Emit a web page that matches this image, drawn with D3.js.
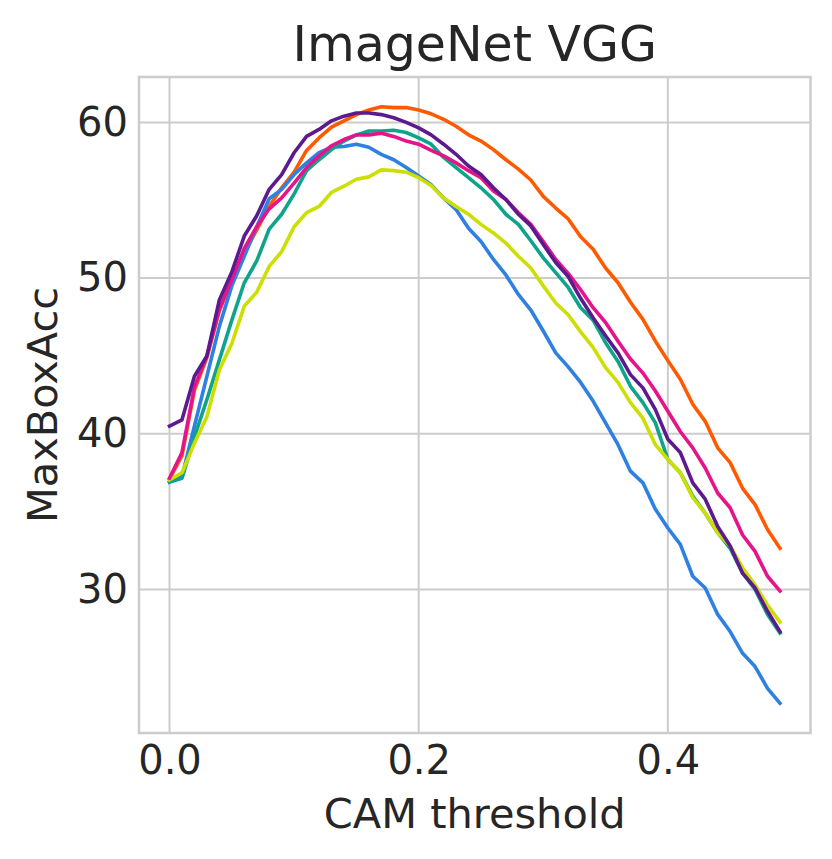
<!DOCTYPE html>
<html><head><meta charset="utf-8">
<script src="https://cdn.jsdelivr.net/npm/d3@7"></script>
<style>
html,body{margin:0;padding:0;background:#fff;}
svg text{font-family:"DejaVu Sans",sans-serif;fill:#262626;}
</style></head>
<body>
<svg id="chart" width="832" height="859"></svg>
<script>
// CAM thresholds 0.00 .. 0.49
const thresholds = d3.range(50).map(i => +(i * 0.01).toFixed(2));
const xTicks = [0.0, 0.2, 0.4];
const yTicks = [30, 40, 50, 60];
const seriesNames = ["orange", "blue", "teal", "yellow", "magenta", "purple"];
const seriesColors = ["#ff5a00", "#2e80e2", "#0fa38b", "#cddf00", "#e6148a", "#5c1a8e"];

const orange = [37.1,38.6,42.8,44.9,47.9,49.9,51.6,53.1,54.6,55.8,56.8,58.2,59.0,59.7,60.1,60.5,60.8,61.0,60.95,60.95,60.8,60.55,60.2,59.75,59.2,58.8,58.25,57.6,57.0,56.3,55.25,54.5,53.8,52.65,51.85,50.65,49.7,48.45,47.35,45.95,44.7,43.5,41.9,40.8,39.1,38.15,36.5,35.45,33.85,32.65];
const blue = [36.9,37.25,40.5,43.7,46.9,49.5,51.4,53.3,55.1,55.7,56.65,57.4,58.05,58.4,58.45,58.6,58.4,57.95,57.6,57.1,56.55,56.0,55.15,54.4,53.2,52.35,51.2,50.2,48.95,47.95,46.6,45.2,44.3,43.3,42.1,40.7,39.3,37.6,36.85,35.15,33.95,32.9,30.85,30.1,28.4,27.3,25.9,25.05,23.65,22.7];
const teal = [36.9,37.15,39.8,42.2,44.75,47.3,49.7,51.1,53.15,54.1,55.4,56.9,57.6,58.25,58.8,59.2,59.45,59.45,59.5,59.35,59.0,58.6,57.75,57.1,56.45,55.8,55.05,54.1,53.45,52.4,51.3,50.35,49.4,48.1,47.3,45.85,44.65,43.05,42.0,40.7,38.35,37.5,36.0,34.9,33.65,32.65,31.05,30.0,28.4,27.2];
const yellow = [37.05,37.5,39.4,41.1,44.1,45.8,48.2,49.1,50.75,51.7,53.3,54.2,54.6,55.5,55.9,56.35,56.5,56.95,56.9,56.8,56.45,55.95,55.15,54.6,54.1,53.45,52.9,52.25,51.4,50.65,49.5,48.4,47.65,46.55,45.55,44.25,43.3,42.0,41.0,39.3,38.35,37.5,35.9,34.9,33.65,32.8,31.4,30.3,29.0,27.9];
const magenta = [37.15,38.8,43.0,45.0,48.0,49.9,51.9,53.3,54.45,55.15,56.1,57.1,57.85,58.5,58.9,59.2,59.2,59.3,59.1,58.8,58.6,58.2,57.85,57.4,56.9,56.45,55.6,55.05,54.2,53.45,52.35,51.2,50.3,49.25,48.1,47.15,45.95,44.8,43.9,42.75,41.45,40.15,39.1,37.8,36.2,35.25,33.5,32.45,30.85,29.9];
const purple = [40.5,40.9,43.7,45.0,48.6,50.4,52.7,54.0,55.7,56.65,58.05,59.1,59.55,60.1,60.4,60.6,60.6,60.5,60.3,60.0,59.65,59.2,58.6,57.95,57.2,56.65,55.8,55.05,54.1,53.35,52.15,51.0,50.1,48.7,47.45,46.3,45.2,43.8,42.95,41.55,39.65,38.8,36.85,35.8,34.05,32.8,31.05,30.1,28.6,27.3];

const seriesValues = [orange, blue, teal, yellow, magenta, purple];

const margin = {left: 139, right: 832 - 810.5, top: 77, bottom: 859 - 733};
const W = 832, H = 859;
const svg = d3.select("#chart");

function padded(ext) { const s = ext[1] - ext[0]; return [ext[0] - 0.05 * s, ext[1] + 0.05 * s]; }
const xExt = padded(d3.extent(thresholds));
const allVals = seriesValues.flat();
const yExt = padded(d3.extent(allVals));

const x = d3.scaleLinear().domain(xExt).range([margin.left, W - margin.right]);
const y = d3.scaleLinear().domain(yExt).range([H - margin.bottom, margin.top]);

// grid
const grid = svg.append("g");
grid.selectAll("line.vx").data(xTicks).join("line")
  .attr("x1", d => x(d)).attr("x2", d => x(d))
  .attr("y1", margin.top).attr("y2", H - margin.bottom)
  .attr("stroke", "#cccccc").attr("stroke-width", 2);
grid.selectAll("line.hy").data(yTicks).join("line")
  .attr("y1", d => y(d)).attr("y2", d => y(d))
  .attr("x1", margin.left).attr("x2", W - margin.right)
  .attr("stroke", "#cccccc").attr("stroke-width", 2);

// lines
const line = d3.line().x((d, i) => x(thresholds[i])).y(d => y(d));
svg.append("g").selectAll("path").data(seriesValues).join("path")
  .attr("d", d => line(d))
  .attr("fill", "none")
  .attr("stroke", (d, i) => seriesColors[i])
  .attr("stroke-width", 3.6)
  .attr("stroke-linejoin", "round")
  .attr("stroke-linecap", "square");

// spines
svg.append("rect")
  .attr("x", margin.left).attr("y", margin.top)
  .attr("width", W - margin.right - margin.left)
  .attr("height", H - margin.bottom - margin.top)
  .attr("fill", "none").attr("stroke", "#cccccc").attr("stroke-width", 2.5);

// axes (ticks with zero length)
const xAxis = d3.axisBottom(x).tickValues(xTicks).tickFormat(d3.format(".1f")).tickSize(0).tickPadding(13);
const gx = svg.append("g").attr("transform", `translate(0,${H - margin.bottom})`).call(xAxis);
gx.select(".domain").remove();
gx.selectAll("text").attr("font-size", "40px").attr("fill", "#262626").attr("font-family", "DejaVu Sans");

const yAxis = d3.axisLeft(y).tickValues(yTicks).tickFormat(d3.format("d")).tickSize(0).tickPadding(11);
const gy = svg.append("g").attr("transform", `translate(${margin.left},0)`).call(yAxis);
gy.select(".domain").remove();
gy.selectAll("text").attr("font-size", "40px").attr("fill", "#262626").attr("font-family", "DejaVu Sans");

// title & labels
const cx = (margin.left + W - margin.right) / 2;
svg.append("text").attr("x", cx).attr("y", 61).attr("text-anchor", "middle")
  .attr("font-size", "49px").text("ImageNet VGG");
svg.append("text").attr("x", cx).attr("y", 828).attr("text-anchor", "middle")
  .attr("font-size", "41.5px").text("CAM threshold");
const cy = (margin.top + H - margin.bottom) / 2;
svg.append("text").attr("transform", `translate(57,${cy}) rotate(-90)`).attr("text-anchor", "middle")
  .attr("font-size", "41.5px").text("MaxBoxAcc");
</script>
</body></html>
